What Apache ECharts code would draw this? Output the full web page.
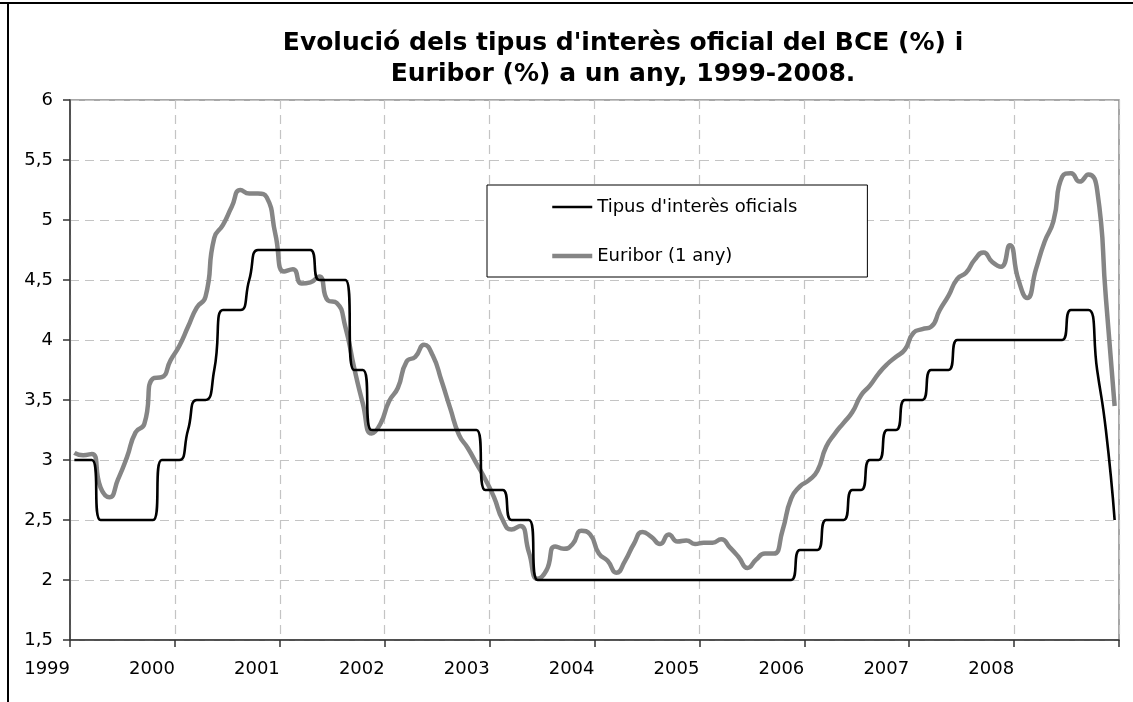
<!DOCTYPE html>
<html><head><meta charset="utf-8">
<script src="https://cdn.jsdelivr.net/npm/echarts@6/dist/echarts.min.js"></script>
<style>html,body{margin:0;padding:0;background:#fff}#c{width:1133px;height:702px}</style>
</head><body><div id="c"></div>
<script>
// Tick labels (one per year) and monthly categories
const years = ['1999','2000','2001','2002','2003','2004','2005','2006','2007','2008'];
const months = [];
years.forEach(y => { for (let m = 1; m <= 12; m++) months.push(y + '-' + (m < 10 ? '0' + m : m)); });

// Tipus d'interès oficials (BCE), monthly
const ecbRate = [
  3.00,3.00,3.00,2.50,2.50,2.50,2.50,2.50,2.50,2.50,3.00,3.00,
  3.00,3.25,3.50,3.50,3.75,4.25,4.25,4.25,4.50,4.75,4.75,4.75,
  4.75,4.75,4.75,4.75,4.50,4.50,4.50,4.50,3.75,3.75,3.25,3.25,
  3.25,3.25,3.25,3.25,3.25,3.25,3.25,3.25,3.25,3.25,3.25,2.75,
  2.75,2.75,2.50,2.50,2.50,2.00,2.00,2.00,2.00,2.00,2.00,2.00,
  2.00,2.00,2.00,2.00,2.00,2.00,2.00,2.00,2.00,2.00,2.00,2.00,
  2.00,2.00,2.00,2.00,2.00,2.00,2.00,2.00,2.00,2.00,2.00,2.25,
  2.25,2.25,2.50,2.50,2.50,2.75,2.75,3.00,3.00,3.25,3.25,3.50,
  3.50,3.50,3.75,3.75,3.75,4.00,4.00,4.00,4.00,4.00,4.00,4.00,
  4.00,4.00,4.00,4.00,4.00,4.00,4.25,4.25,4.25,3.75,3.25,2.50
];

// Euribor (1 any), monthly
const euribor1y = [
  3.06,3.04,3.05,2.77,2.69,2.84,3.02,3.23,3.30,3.68,3.69,3.83,
  3.95,4.11,4.27,4.36,4.85,4.96,5.11,5.25,5.22,5.22,5.19,4.88,
  4.57,4.59,4.47,4.48,4.53,4.33,4.31,4.11,3.77,3.47,3.22,3.30,
  3.49,3.60,3.82,3.86,3.96,3.87,3.66,3.43,3.21,3.10,2.97,2.84,
  2.69,2.50,2.42,2.45,2.23,2.01,2.08,2.28,2.26,2.30,2.41,2.38,
  2.22,2.16,2.06,2.16,2.30,2.40,2.36,2.30,2.38,2.32,2.33,2.30,
  2.31,2.31,2.34,2.27,2.19,2.10,2.17,2.22,2.22,2.41,2.68,2.78,
  2.83,2.91,3.11,3.22,3.31,3.40,3.54,3.62,3.72,3.80,3.86,3.92,
  4.06,4.09,4.11,4.25,4.37,4.51,4.56,4.67,4.73,4.65,4.61,4.79,
  4.50,4.35,4.59,4.82,4.99,5.36,5.39,5.32,5.38,5.25,4.35,3.45
];

const seriesNames = ["Tipus d'interès oficials", 'Euribor (1 any)'];
const titleText = "Evolució dels tipus d'interès oficial del BCE (%) i\nEuribor (%) a un any, 1999-2008.";

const FONT = "'DejaVu Sans', Verdana, sans-serif";
const chart = echarts.init(document.getElementById('c'), null, { renderer: 'canvas' });

const toPoints = arr => arr.map((v, i) => [i + 0.5, v]); // month i sits in the middle of its slot

chart.setOption({
  animation: false,
  backgroundColor: '#fff',
  title: {
    text: titleText,
    left: 623, top: 28, padding: 0,
    textAlign: 'center', textVerticalAlign: 'top',
    textStyle: { fontFamily: FONT, fontWeight: 'bold', fontSize: 25, lineHeight: 31, color: '#000' }
  },
  legend: {
    orient: 'vertical',
    left: 487, top: 185,
    padding: [13, 70, 12, 63],
    itemWidth: 40, itemHeight: 20, itemGap: 31,
    itemStyle: { opacity: 0 },
    backgroundColor: '#fff', borderColor: '#000', borderWidth: 1,
    textStyle: { fontFamily: FONT, fontSize: 18, color: '#000' },
    data: [
      { name: seriesNames[0], lineStyle: { color: '#000', width: 2.6 } },
      { name: seriesNames[1], lineStyle: { color: '#858585', width: 4.5 } }
    ]
  },
  grid: {
    left: 70, right: 14, top: 100, bottom: 62, containLabel: false,
    show: true, borderColor: '#8a8a8a', borderWidth: 1.5, backgroundColor: 'transparent'
  },
  xAxis: {
    type: 'value', min: 0, max: 120, interval: 12,
    axisLine: { show: true, onZero: false, lineStyle: { color: '#333', width: 1.5 } },
    axisTick: { show: true, length: 7, lineStyle: { color: '#333', width: 1.5 } },
    axisLabel: {
      formatter: v => years[v / 12] || '',
      align: 'right', margin: 20,
      fontFamily: FONT, fontSize: 18, color: '#000'
    },
    splitLine: { show: true, lineStyle: { type: [9, 6], color: '#c4c4c4', width: 1.2 } }
  },
  yAxis: {
    type: 'value', min: 1.5, max: 6, interval: 0.5,
    axisLine: { show: true, lineStyle: { color: '#333', width: 1.5 } },
    axisTick: { show: true, length: 7, lineStyle: { color: '#333', width: 1.5 } },
    axisLabel: {
      formatter: v => String(v).replace('.', ','),
      margin: 17, fontFamily: FONT, fontSize: 18, color: '#000'
    },
    splitLine: { show: true, lineStyle: { type: [9, 6], color: '#c4c4c4', width: 1.2 } }
  },
  series: [
    {
      name: seriesNames[0], type: 'line', data: toPoints(ecbRate),
      smooth: 0.55, symbol: 'none', showSymbol: false,
      lineStyle: { color: '#000', width: 2.6 }, itemStyle: { color: '#000' }, z: 3
    },
    {
      name: seriesNames[1], type: 'line', data: toPoints(euribor1y),
      smooth: 0.55, symbol: 'none', showSymbol: false,
      lineStyle: { color: '#858585', width: 4.5 }, itemStyle: { color: '#858585' }, z: 2
    }
  ],
  graphic: [
    { type: 'rect', left: 0, top: 2, shape: { width: 1133, height: 2 }, style: { fill: '#000' }, silent: true },
    { type: 'rect', left: 7, top: 2, shape: { width: 2, height: 700 }, style: { fill: '#000' }, silent: true }
  ]
});
</script>
</body></html>
